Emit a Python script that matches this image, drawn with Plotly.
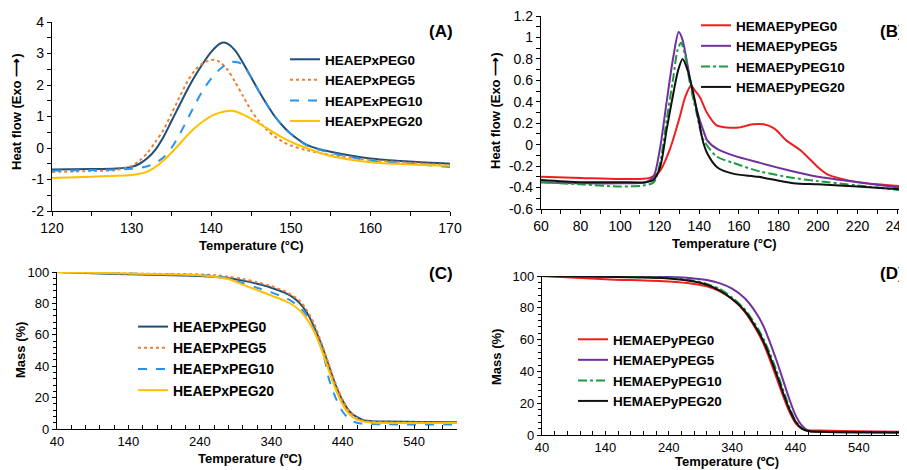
import plotly.graph_objects as go

W, H = 907, 470
OFF = 8  # the page body adds an 8px margin round the figure
FONT = "Liberation Sans, Arial, sans-serif"

# ---- panel A: DSC, HEAEPxPEG ----
a_t0 = [120, 125, 128, 130, 131, 132, 133, 134, 135, 136, 137, 138, 139, 140, 141, 141.5, 142, 143, 144, 145, 146, 147, 148, 149, 150, 152, 155, 160, 165, 170]
a_v0 = [-0.68, -0.67, -0.65, -0.6, -0.5, -0.32, -0.05, 0.35, 0.85, 1.35, 1.85, 2.3, 2.7, 3.05, 3.3, 3.35, 3.32, 3.1, 2.7, 2.25, 1.8, 1.38, 1.0, 0.7, 0.45, 0.1, -0.12, -0.33, -0.43, -0.5]
a_t5 = [120, 125, 128, 130, 131, 132, 133, 134, 135, 136, 137, 138, 139, 140.3, 141, 142, 143, 144, 145, 146, 147, 148, 149, 150, 152, 155, 160, 165, 170]
a_v5 = [-0.76, -0.73, -0.7, -0.57, -0.4, -0.15, 0.2, 0.57, 1.08, 1.6, 2.1, 2.48, 2.7, 2.8, 2.74, 2.5, 2.1, 1.65, 1.2, 0.85, 0.57, 0.36, 0.2, 0.08, -0.07, -0.22, -0.38, -0.47, -0.55]
a_t10 = [120, 125, 130, 132, 133, 134, 135, 136, 137, 138, 139, 140, 141, 142, 142.6, 143.3, 144, 145, 146, 147, 148, 149, 150, 152, 155, 160, 165, 170]
a_v10 = [-0.72, -0.7, -0.66, -0.58, -0.47, -0.3, 0.0, 0.42, 0.9, 1.4, 1.85, 2.2, 2.48, 2.68, 2.74, 2.72, 2.64, 2.25, 1.8, 1.38, 1.0, 0.7, 0.45, 0.08, -0.15, -0.4, -0.5, -0.6]
a_t20 = [120, 125, 130, 131, 132, 133, 134, 135, 136, 137, 138, 139, 140.3, 141.5, 142.6, 143.5, 144.9, 146.5, 148.6, 150.7, 152, 154.5, 160, 165, 170]
a_v20 = [-0.95, -0.91, -0.86, -0.82, -0.75, -0.6, -0.4, -0.15, 0.12, 0.4, 0.65, 0.85, 1.05, 1.15, 1.18, 1.12, 0.95, 0.7, 0.38, 0.12, 0.0, -0.22, -0.45, -0.52, -0.56]
a_names = ["HEAEPxPEG0", "HEAEPxPEG5", "HEAPExPEG10", "HEAEPxPEG20"]

# ---- panel B: DSC, HEMAEPyPEG ----
b_t0 = [60, 80, 100, 115, 120, 125, 130, 133, 135.8, 138, 140.4, 143.8, 148.8, 154, 160, 167, 172.6, 178, 184, 191, 195, 200, 205, 210, 217, 230, 245]
b_v0 = [-0.3, -0.31, -0.32, -0.31, -0.25, -0.05, 0.25, 0.45, 0.55, 0.5, 0.44, 0.3, 0.18, 0.16, 0.16, 0.19, 0.19, 0.15, 0.04, -0.05, -0.12, -0.21, -0.28, -0.31, -0.34, -0.37, -0.39]
b_t5 = [60, 80, 100, 113, 116.8, 120.2, 123.5, 126.9, 129.6, 131.5, 133.7, 137, 140.4, 142.3, 144, 149, 157, 170.7, 187.6, 200, 220, 245]
b_v5 = [-0.35, -0.36, -0.36, -0.35, -0.3, -0.03, 0.4, 0.82, 1.05, 0.98, 0.78, 0.45, 0.22, 0.12, 0.04, -0.04, -0.1, -0.17, -0.25, -0.3, -0.35, -0.41]
b_t10 = [60, 80, 100, 112, 117, 120.2, 123.5, 126.9, 129, 130.8, 133, 135.3, 138.7, 142, 148.8, 157.2, 170.7, 187.6, 200, 220, 245]
b_v10 = [-0.35, -0.37, -0.39, -0.38, -0.35, -0.17, 0.23, 0.63, 0.88, 0.95, 0.82, 0.57, 0.29, 0.05, -0.11, -0.17, -0.25, -0.31, -0.34, -0.38, -0.43]
b_t20 = [60, 80, 100, 113, 116.8, 120.2, 123.5, 126.9, 129.4, 131.6, 134, 137, 140, 142, 144, 149, 157, 170, 187.6, 200, 220, 245]
b_v20 = [-0.33, -0.35, -0.35, -0.35, -0.33, -0.21, 0.14, 0.48, 0.7, 0.8, 0.7, 0.48, 0.2, 0.02, -0.08, -0.21, -0.27, -0.3, -0.36, -0.37, -0.39, -0.42]
b_names = ["HEMAEPyPEG0", "HEMAEPyPEG5", "HEMAEPyPEG10", "HEMAEPyPEG20"]

# ---- panel C: TGA, HEAEPxPEG ----
c_t0 = [40, 100, 140, 200, 240, 260, 280, 300, 320, 340, 360, 370, 380, 390, 400, 410, 420, 430, 440, 450, 460, 470, 480, 500, 550, 600]
c_v0 = [100, 99, 98.5, 98, 97.5, 97, 96, 94.5, 92.5, 90, 86.5, 84, 80, 74, 65, 54, 41, 28, 18, 11, 7.5, 5.5, 5, 4.7, 4.5, 4.3]
c_t5 = [40, 140, 240, 260, 280, 300, 320, 340, 360, 370, 380, 390, 400, 410, 420, 430, 440, 450, 460, 470, 480, 600]
c_v5 = [100, 99, 98.5, 98, 97, 95.5, 93.5, 91, 87.5, 85, 81.5, 75.5, 67, 55, 42, 29, 18.5, 11, 7, 5, 4.5, 4]
c_t10 = [40, 140, 240, 260, 280, 300, 320, 340, 360, 370, 380, 390, 400, 410, 415, 420, 430, 440, 450, 460, 470, 500, 600]
c_v10 = [100, 99, 98, 97.5, 96, 93, 90, 87, 83.5, 81, 77.5, 72, 63, 52, 44, 33, 20, 11, 6, 4, 3.3, 3, 2.8]
c_t20 = [40, 140, 240, 260, 280, 300, 320, 340, 360, 370, 380, 390, 400, 410, 420, 430, 440, 450, 460, 470, 480, 600]
c_v20 = [100, 99, 98, 97, 95.5, 92, 88.5, 85, 81.5, 79, 75.5, 70, 62, 51, 38, 25.5, 15.5, 9, 6, 4.7, 4.2, 3.8]
c_names = ["HEAEPxPEG0", "HEAEPxPEG5", "HEAEPxPEG10", "HEAEPxPEG20"]

# ---- panel D: TGA, HEMAEPyPEG ----
d_t0 = [40, 140, 240, 280, 300, 320, 340, 360, 380, 390, 400, 410, 420, 430, 440, 450, 460, 480, 540, 616]
d_v0 = [100, 98, 96.5, 95, 93.5, 90.5, 85.5, 77.5, 65, 57, 47, 36, 25, 15, 7.5, 4, 3, 2.8, 2.4, 2]
d_t5 = [40, 140, 240, 280, 300, 320, 340, 360, 380, 390, 400, 410, 420, 430, 440, 450, 460, 470, 500, 616]
d_v5 = [100, 99.7, 99.3, 98.5, 97.5, 95.5, 92, 86, 75.5, 68, 58, 47, 35, 23, 12.5, 6, 2.8, 2, 1.8, 1.5]
d_t10 = [40, 140, 240, 280, 300, 320, 340, 360, 380, 390, 400, 410, 420, 430, 440, 450, 460, 480, 616]
d_v10 = [100, 99.5, 98.8, 97, 95, 92, 86.5, 79, 67.5, 60, 51, 40.5, 29, 18, 9, 4.5, 2.5, 2, 1.6]
d_t20 = [40, 140, 240, 280, 300, 320, 340, 360, 380, 390, 400, 410, 420, 430, 440, 450, 460, 480, 616]
d_v20 = [100, 99.5, 98.5, 96.5, 94.5, 91, 85.5, 78, 66, 58.5, 49, 38.5, 27, 16.5, 8.5, 4, 2.5, 2, 1.6]
d_names = ["HEMAEPyPEG0", "HEMAEPyPEG5", "HEMAEPyPEG10", "HEMAEPyPEG20"]

# tick labels (hyphen minus like the original)
a_yvals = [-2, -1, 0, 1, 2, 3, 4]
a_ytext = ["-2", "-1", "0", "1", "2", "3", "4"]
b_yvals = [-0.6, -0.4, -0.2, 0, 0.2, 0.4, 0.6, 0.8, 1, 1.2]
b_ytext = ["-0.6", "-0.4", "-0.2", "0", "0.2", "0.4", "0.6", "0.8", "1", "1.2"]

col_a = ["#1F4E79", "#ED7D31", "#2A93E8", "#FFC000"]
dash_a = ["solid", "dot", "dash", "solid"]
col_b = ["#F01E1E", "#7030A0", "#1E9A45", "#111111"]
dash_b = ["solid", "solid", "dashdot", "solid"]

def px_x(p):
    return (p - OFF) / W

def px_y(p):
    return 1 - (p - OFF) / H

fig = go.Figure()

panels = [
    ("x", "y", "legend", [(a_t0, a_v0), (a_t5, a_v5), (a_t10, a_v10), (a_t20, a_v20)], a_names, col_a, dash_a),
    ("x2", "y2", "legend2", [(b_t0, b_v0), (b_t5, b_v5), (b_t10, b_v10), (b_t20, b_v20)], b_names, col_b, dash_b),
    ("x3", "y3", "legend3", [(c_t0, c_v0), (c_t5, c_v5), (c_t10, c_v10), (c_t20, c_v20)], c_names, col_a, dash_a),
    ("x4", "y4", "legend4", [(d_t0, d_v0), (d_t5, d_v5), (d_t10, d_v10), (d_t20, d_v20)], d_names, col_b, dash_b),
]
for xa, ya, lg, series, names, cols, dashes in panels:
    for (t, v), nm, c, d in zip(series, names, cols, dashes):
        fig.add_trace(go.Scatter(x=t, y=v, name=nm, mode="lines", xaxis=xa, yaxis=ya, legend=lg,
                                 line=dict(color=c, dash=d, width=2, shape="spline", smoothing=0.8)))

ax = dict(showgrid=False, zeroline=False, showline=True, linecolor="black", linewidth=1.3,
          ticks="outside", tickcolor="black", ticklen=4, tickwidth=1.2, ticklabeloverflow="allow",
          tickfont=dict(family=FONT, size=14, color="black"), automargin=False)
ft13 = dict(family=FONT, size=13, color="black")

fig.update_layout(
    width=W, height=H, margin=dict(l=0, r=0, t=0, b=0),
    paper_bgcolor="white", plot_bgcolor="white", showlegend=True,
    font=dict(family=FONT, color="black"),
    xaxis=dict(ax, domain=[px_x(52), px_x(450)], range=[120, 170], dtick=10, anchor="y",
               minor=dict(dtick=5, ticks="outside", ticklen=4, tickcolor="black")),
    yaxis=dict(ax, domain=[px_y(211), px_y(22)], range=[-2, 4], tickvals=a_yvals, ticktext=a_ytext, anchor="x",
               minor=dict(dtick=0.5, ticks="outside", ticklen=4, tickcolor="black")),
    xaxis2=dict(ax, domain=[px_x(541), px_x(907)], range=[60, 245], dtick=20, anchor="y2",
                minor=dict(dtick=10, ticks="outside", ticklen=4, tickcolor="black")),
    yaxis2=dict(ax, domain=[px_y(209), px_y(16)], range=[-0.6, 1.2], tickvals=b_yvals, ticktext=b_ytext, anchor="x2",
                minor=dict(dtick=0.1, ticks="outside", ticklen=4, tickcolor="black")),
    xaxis3=dict(ax, domain=[px_x(57), px_x(457)], range=[40, 600], tick0=40, dtick=100, anchor="y3",
                ticks="inside", tickfont=ft13,
                minor=dict(dtick=20, ticks="inside", ticklen=4, tickcolor="black")),
    yaxis3=dict(ax, domain=[px_y(429), px_y(272)], range=[0, 100], dtick=20, anchor="x3", tickfont=ft13,
                minor=dict(dtick=4, ticks="outside", ticklen=3, tickcolor="black")),
    xaxis4=dict(ax, domain=[px_x(542), px_x(907)], range=[40, 616], tick0=40, dtick=100, anchor="y4",
                ticks="inside", tickfont=ft13,
                minor=dict(dtick=20, ticks="inside", ticklen=4, tickcolor="black")),
    yaxis4=dict(ax, domain=[px_y(435), px_y(276)], range=[0, 100], dtick=20, anchor="x4", tickfont=ft13,
                minor=dict(dtick=4, ticks="outside", ticklen=3, tickcolor="black")),
)

leg = dict(bgcolor="rgba(0,0,0,0)", borderwidth=0, xanchor="left", yanchor="top",
           font=dict(family=FONT, size=13.5, color="black", weight="bold"), tracegroupgap=0)
fig.update_layout(
    legend=dict(leg, x=px_x(285), y=px_y(44)),
    legend2=dict(leg, x=px_x(696), y=px_y(10)),
    legend3=dict(leg, x=px_x(133), y=px_y(311), font=dict(family=FONT, size=14, color="black", weight="bold")),
    legend4=dict(leg, x=px_x(573), y=px_y(324)),
)

titles = [
    # text, x px, y px, angle
    ("Temperature (°C)", 251, 246, 0),
    ("Temperature (°C)", 724, 243, 0),
    ("Temperature (ºC)", 250, 458, 0),
    ("Temperature (ºC)", 727, 461, 0),
    ("Heat flow (Exo ⟶)", 16, 112, -90),
    ("Heat flow (Exo ⟶)", 496, 110, -90),
    ("Mass (%)", 20, 350, -90),
    ("Mass (%)", 496, 357, -90),
]
for txt, x, y, ang in titles:
    fig.add_annotation(text="<b>%s</b>" % txt, x=px_x(x), y=px_y(y), xref="paper", yref="paper",
                       showarrow=False, textangle=ang, font=ft13,
                       xanchor="center", yanchor="middle")

labels = [("(A)", 455, 32, "right"), ("(B)", 906, 32, "right"), ("(C)", 455, 273, "right"), ("(D)", 906, 273, "right")]
for txt, x, y, anc in labels:
    fig.add_annotation(text="<b>%s</b>" % txt, x=px_x(x), y=px_y(y), xref="paper", yref="paper",
                       showarrow=False, font=dict(family=FONT, size=17, color="black"),
                       xanchor=anc, yanchor="middle")

fig.write_html("out.html")
